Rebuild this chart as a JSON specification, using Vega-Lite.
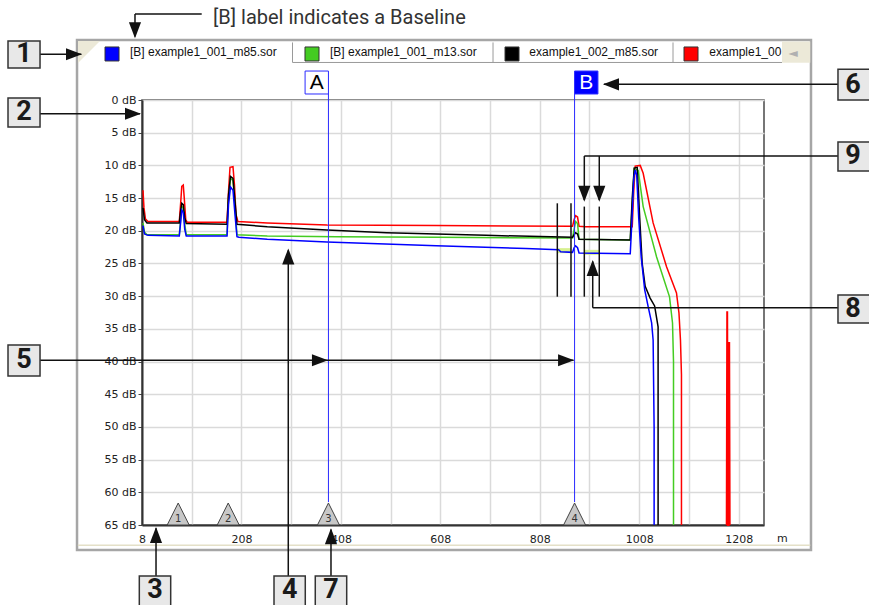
{
  "$schema": "https://vega.github.io/schema/vega-lite/v6.json",
  "width": 622,
  "height": 425,
  "autosize": {"type": "none"},
  "padding": {"left": 142, "top": 100, "right": 105, "bottom": 80},
  "background": "white",
  "config": {"view": {"stroke": "#4a4a4a", "strokeWidth": 1.5}},
  "datasets": {
    "traces": [
      {"s":"red","m":10,"db":13.8},{"s":"red","m":12,"db":16.5},{"s":"red","m":15,"db":18.2},{"s":"red","m":20,"db":18.6},{"s":"red","m":83,"db":18.6},{"s":"red","m":86,"db":15.5},{"s":"red","m":88,"db":13.2},{"s":"red","m":91,"db":13},{"s":"red","m":93,"db":15},{"s":"red","m":96,"db":18.3},{"s":"red","m":99,"db":18.7},{"s":"red","m":179,"db":18.7},{"s":"red","m":182,"db":14},{"s":"red","m":185,"db":10.3},{"s":"red","m":191,"db":10.2},{"s":"red","m":194,"db":13},{"s":"red","m":197,"db":17.5},{"s":"red","m":201,"db":18.6},{"s":"red","m":260,"db":18.8},{"s":"red","m":380,"db":19.1},{"s":"red","m":600,"db":19.2},{"s":"red","m":874,"db":19.3},{"s":"red","m":877,"db":18.3},{"s":"red","m":880,"db":17.7},{"s":"red","m":884,"db":17.9},{"s":"red","m":887,"db":19.3},{"s":"red","m":900,"db":19.4},{"s":"red","m":994,"db":19.4},{"s":"red","m":997,"db":14},{"s":"red","m":1000,"db":10.1},{"s":"red","m":1010,"db":10},{"s":"red","m":1016,"db":11.2},{"s":"red","m":1036,"db":18.8},{"s":"red","m":1063,"db":25.5},{"s":"red","m":1083,"db":29.5},{"s":"red","m":1088,"db":32.6},{"s":"red","m":1091,"db":36.7},{"s":"red","m":1093,"db":42},{"s":"red","m":1093,"db":65},
      {"s":"red2","m":1184,"db":65},{"s":"red2","m":1185,"db":32.3},{"s":"red2","m":1186,"db":65},{"s":"red2","m":1188,"db":65},{"s":"red2","m":1189,"db":37},{"s":"red2","m":1190,"db":65},
      {"s":"green","m":10,"db":18.8},{"s":"green","m":13,"db":20.2},{"s":"green","m":18,"db":20.6},{"s":"green","m":83,"db":20.6},{"s":"green","m":86,"db":18},{"s":"green","m":88,"db":16.3},{"s":"green","m":91,"db":16.5},{"s":"green","m":94,"db":19},{"s":"green","m":97,"db":20.6},{"s":"green","m":179,"db":20.6},{"s":"green","m":182,"db":15},{"s":"green","m":186,"db":12},{"s":"green","m":191,"db":12.3},{"s":"green","m":195,"db":16},{"s":"green","m":199,"db":20.6},{"s":"green","m":260,"db":20.8},{"s":"green","m":400,"db":20.9},{"s":"green","m":600,"db":21.0},{"s":"green","m":874,"db":21.1},{"s":"green","m":877,"db":19.8},{"s":"green","m":880,"db":18.6},{"s":"green","m":884,"db":18.9},{"s":"green","m":887,"db":21.3},{"s":"green","m":990,"db":21.4},{"s":"green","m":994,"db":16},{"s":"green","m":998,"db":10.5},{"s":"green","m":1006,"db":10.8},{"s":"green","m":1016,"db":16.3},{"s":"green","m":1043,"db":24},{"s":"green","m":1069,"db":30.1},{"s":"green","m":1075,"db":34.1},{"s":"green","m":1077,"db":40},{"s":"green","m":1077,"db":65},
      {"s":"black","m":10,"db":16.5},{"s":"black","m":13,"db":18.3},{"s":"black","m":18,"db":18.8},{"s":"black","m":83,"db":18.8},{"s":"black","m":86,"db":16.8},{"s":"black","m":88,"db":15.8},{"s":"black","m":91,"db":16},{"s":"black","m":94,"db":18},{"s":"black","m":97,"db":18.9},{"s":"black","m":179,"db":19.0},{"s":"black","m":182,"db":14.5},{"s":"black","m":186,"db":11.7},{"s":"black","m":191,"db":12},{"s":"black","m":195,"db":15.5},{"s":"black","m":199,"db":19.0},{"s":"black","m":260,"db":19.4},{"s":"black","m":380,"db":19.9},{"s":"black","m":500,"db":20.3},{"s":"black","m":700,"db":20.7},{"s":"black","m":874,"db":21.0},{"s":"black","m":877,"db":20.6},{"s":"black","m":880,"db":20.3},{"s":"black","m":884,"db":20.5},{"s":"black","m":887,"db":21.3},{"s":"black","m":990,"db":21.4},{"s":"black","m":994,"db":15},{"s":"black","m":998,"db":10.4},{"s":"black","m":1004,"db":10.3},{"s":"black","m":1009,"db":18},{"s":"black","m":1014,"db":25},{"s":"black","m":1020,"db":28.5},{"s":"black","m":1030,"db":30.3},{"s":"black","m":1039,"db":31.5},{"s":"black","m":1046,"db":34.7},{"s":"black","m":1046,"db":65},
      {"s":"blue","m":10,"db":19.2},{"s":"blue","m":13,"db":20.5},{"s":"blue","m":20,"db":20.7},{"s":"blue","m":83,"db":20.8},{"s":"blue","m":86,"db":18.5},{"s":"blue","m":88,"db":16.8},{"s":"blue","m":91,"db":17.2},{"s":"blue","m":94,"db":19.8},{"s":"blue","m":97,"db":20.8},{"s":"blue","m":179,"db":20.8},{"s":"blue","m":182,"db":16},{"s":"blue","m":186,"db":13.3},{"s":"blue","m":191,"db":13.8},{"s":"blue","m":195,"db":17.5},{"s":"blue","m":199,"db":20.9},{"s":"blue","m":203,"db":21.0},{"s":"blue","m":260,"db":21.3},{"s":"blue","m":380,"db":21.7},{"s":"blue","m":600,"db":22.3},{"s":"blue","m":780,"db":22.7},{"s":"blue","m":846,"db":22.9},{"s":"blue","m":850,"db":23.2},{"s":"blue","m":874,"db":23.3},{"s":"blue","m":877,"db":22.6},{"s":"blue","m":880,"db":22.3},{"s":"blue","m":884,"db":22.6},{"s":"blue","m":887,"db":23.4},{"s":"blue","m":990,"db":23.5},{"s":"blue","m":993,"db":19},{"s":"blue","m":997,"db":12},{"s":"blue","m":1000,"db":10.7},{"s":"blue","m":1003,"db":11.5},{"s":"blue","m":1007,"db":18},{"s":"blue","m":1012,"db":24},{"s":"blue","m":1019,"db":29},{"s":"blue","m":1026,"db":31.6},{"s":"blue","m":1033,"db":34.1},{"s":"blue","m":1036,"db":36.7},{"s":"blue","m":1038,"db":50},{"s":"blue","m":1038,"db":65}
    ],
    "markers": [
      {"m": 80.8, "db": 65, "n": "1"}, {"m": 181.4, "db": 65, "n": "2"}, {"m": 383, "db": 65, "n": "3"}, {"m": 878, "db": 65, "n": "4"}
    ]
  },
  "encoding": {
    "x": {
      "field": "m", "type": "quantitative",
      "scale": {"domain": [8, 1259], "nice": false, "zero": false},
      "axis": {
        "title": null, "values": [8,108,208,308,408,508,608,708,808,908,1008,1108,1208],
        "format": "d",
        "labelExpr": "(datum.value - 8) % 200 == 0 ? datum.label : ''",
        "ticks": false, "grid": true, "gridColor": "#dadada", "gridWidth": 1.5,
        "domainColor": "#333", "domainWidth": 2,
        "labelFont": "DejaVu Sans", "labelFontSize": 11, "labelColor": "#222",
        "labelPadding": 8, "labelFlush": false, "labelOverlap": false
      }
    },
    "y": {
      "field": "db", "type": "quantitative",
      "scale": {"domain": [0, 65], "reverse": true, "nice": false, "zero": false},
      "axis": {
        "title": null, "values": [0,5,10,15,20,25,30,35,40,45,50,55,60,65],
        "labelExpr": "datum.value + ' dB'",
        "grid": true, "gridColor": "#dadada", "gridWidth": 1.5,
        "ticks": true, "tickSize": 4, "tickColor": "#444",
        "domainColor": "#333", "domainWidth": 2,
        "labelFont": "DejaVu Sans", "labelFontSize": 11, "labelColor": "#222",
        "labelPadding": 2, "labelOverlap": false
      }
    }
  },
  "layer": [
    {
      "data": {"values": [{"m": -122.7, "m2": 1353.5, "db": -9.18, "db2": 68.82}]},
      "mark": {"type": "rect", "fill": "transparent", "stroke": "#a6a6a6", "strokeWidth": 2.5},
      "encoding": {"x2": {"field": "m2"}, "y2": {"field": "db2"}}
    },
    {
      "data": {"values": [{"m": -121, "m2": 1352, "db": 68.1, "db2": 68.1}]},
      "mark": {"type": "rule", "color": "#e4e0c8", "strokeWidth": 1.5},
      "encoding": {"x2": {"field": "m2"}, "y2": {"field": "db2"}}
    },
    {
      "data": {"values": [{"m": 1295.2, "m2": 1352, "db": -8.95, "db2": -5.7}]},
      "mark": {"type": "rect", "fill": "#ece9d8"},
      "encoding": {"x2": {"field": "m2"}, "y2": {"field": "db2"}}
    },
    {
      "data": {"values": [
        {"m": 310.7, "m2": 1295.2, "db": -5.74, "db2": -5.74},
        {"m": 310.7, "m2": 310.7, "db": -8.8, "db2": -5.74},
        {"m": 714, "m2": 714, "db": -8.8, "db2": -5.74},
        {"m": 1076, "m2": 1076, "db": -8.8, "db2": -5.74}
      ]},
      "mark": {"type": "rule", "color": "#9a9a9a", "strokeWidth": 1},
      "encoding": {"x2": {"field": "m2"}, "y2": {"field": "db2"}}
    },
    {
      "data": {"values": [{"m": -98.6, "db": -7.34}]},
      "mark": {"type": "point", "shape": "M-1,-1L1,-1L-1,1Z", "size": 484, "filled": true, "fill": "#ece9d8", "opacity": 1, "strokeWidth": 0}
    },
    {
      "data": {"values": [{"m": -52.3, "db": -7.04, "s": "blue"}, {"m": 349.9, "db": -7.04, "s": "green"}, {"m": 752.2, "db": -7.04, "s": "black"}, {"m": 1112.2, "db": -7.04, "s": "red"}]},
      "mark": {"type": "point", "shape": "square", "size": 196, "filled": true, "opacity": 1, "stroke": "#333", "strokeWidth": 1},
      "encoding": {
        "fill": {"field": "s", "type": "nominal", "scale": {"domain": ["blue", "green", "black", "red"], "range": ["#0000ff", "#44cc22", "#000000", "#ff0000"]}, "legend": null}
      }
    },
    {
      "data": {"values": [
        {"m": -16.1, "db": -7.27, "t": "[B] example1_001_m85.sor"},
        {"m": 386.1, "db": -7.27, "t": "[B] example1_001_m13.sor"},
        {"m": 787, "db": -7.27, "t": "example1_002_m85.sor"},
        {"m": 1149, "db": -7.27, "t": "example1_00"}
      ]},
      "mark": {"type": "text", "align": "left", "baseline": "middle", "font": "Liberation Sans", "fontSize": 12, "color": "#111"},
      "encoding": {"text": {"field": "t"}}
    },
    {
      "data": {"values": [{"m": 1317.3, "db": -7.2, "t": "◄"}]},
      "mark": {"type": "text", "align": "center", "baseline": "middle", "font": "DejaVu Sans", "fontSize": 12, "color": "#b0b0b0"},
      "encoding": {"text": {"field": "t"}}
    },
    {
      "data": {"values": [
        {"m": 843.3, "m2": 870.8, "db": 23.04, "db2": 23.04},
        {"m": 897.6, "m2": 927.7, "db": 23.3, "db2": 23.3}
      ]},
      "mark": {"type": "rule", "color": "#d6f08f", "strokeWidth": 5},
      "encoding": {"x2": {"field": "m2"}, "y2": {"field": "db2"}}
    },
    {
      "data": {"name": "traces"},
      "transform": [{"filter": "datum.s == 'red'"}],
      "mark": {"type": "line", "color": "#ff0000", "strokeWidth": 1.5},
      "encoding": {"order": {"value": null}}
    },
    {
      "data": {"name": "traces"},
      "transform": [{"filter": "datum.s == 'red2'"}],
      "mark": {"type": "line", "color": "#ff0000", "strokeWidth": 2},
      "encoding": {"order": {"value": null}}
    },
    {
      "data": {"name": "traces"},
      "transform": [{"filter": "datum.s == 'green'"}],
      "mark": {"type": "line", "color": "#44cc22", "strokeWidth": 1.5},
      "encoding": {"order": {"value": null}}
    },
    {
      "data": {"name": "traces"},
      "transform": [{"filter": "datum.s == 'black'"}],
      "mark": {"type": "line", "color": "#000000", "strokeWidth": 1.5},
      "encoding": {"order": {"value": null}}
    },
    {
      "data": {"name": "traces"},
      "transform": [{"filter": "datum.s == 'blue'"}],
      "mark": {"type": "line", "color": "#0000ff", "strokeWidth": 1.5},
      "encoding": {"order": {"value": null}}
    },
    {
      "data": {"values": [
        {"m": 383, "m2": 383, "db": -0.92, "db2": 61.5},
        {"m": 878, "m2": 878, "db": -0.92, "db2": 61.5}
      ]},
      "mark": {"type": "rule", "color": "#2a2aff", "strokeWidth": 1},
      "encoding": {"x2": {"field": "m2"}, "y2": {"field": "db2"}}
    },
    {
      "data": {"values": [{"m": 336, "m2": 383, "db": -4.43, "db2": -0.92}]},
      "mark": {"type": "rect", "fill": "white", "stroke": "#2a2aff", "strokeWidth": 1},
      "encoding": {"x2": {"field": "m2"}, "y2": {"field": "db2"}}
    },
    {
      "data": {"values": [{"m": 878, "m2": 925, "db": -4.43, "db2": -0.92}]},
      "mark": {"type": "rect", "fill": "#0000ff", "stroke": "#2a2aff", "strokeWidth": 1},
      "encoding": {"x2": {"field": "m2"}, "y2": {"field": "db2"}}
    },
    {
      "data": {"values": [{"m": 359.5, "db": -2.6, "t": "A"}]},
      "mark": {"type": "text", "align": "center", "baseline": "middle", "font": "Liberation Sans", "fontSize": 21, "color": "#000"},
      "encoding": {"text": {"field": "t"}}
    },
    {
      "data": {"values": [{"m": 901.5, "db": -2.6, "t": "B"}]},
      "mark": {"type": "text", "align": "center", "baseline": "middle", "font": "Liberation Sans", "fontSize": 21, "color": "#ffffff"},
      "encoding": {"text": {"field": "t"}}
    },
    {
      "data": {"name": "markers"},
      "mark": {"type": "point", "shape": "M-1,1L0,-1L1,1Z", "size": 484, "filled": true, "fill": "#c8c8c8", "opacity": 1, "stroke": "#444", "strokeWidth": 1, "yOffset": -11}
    },
    {
      "data": {"name": "markers"},
      "mark": {"type": "text", "align": "center", "baseline": "middle", "font": "DejaVu Sans", "fontSize": 10, "color": "#333", "yOffset": -6.5},
      "encoding": {"text": {"field": "n"}}
    },
    {
      "data": {"values": [
        {"m": 843.3, "m2": 843.3, "db": 15.8, "db2": 30.08},
        {"m": 870.8, "m2": 870.8, "db": 15.8, "db2": 30.08},
        {"m": 897.6, "m2": 897.6, "db": 16.3, "db2": 30.08},
        {"m": 927.7, "m2": 927.7, "db": 16.3, "db2": 30.08}
      ]},
      "mark": {"type": "rule", "color": "#111", "strokeWidth": 1.5},
      "encoding": {"x2": {"field": "m2"}, "y2": {"field": "db2"}}
    },
    {
      "data": {"values": [
        {"m": -197.1, "m2": -114, "db": -7.0, "db2": -7.0},
        {"m": -197.1, "m2": 4, "db": 2.1, "db2": 2.1},
        {"m": -197.1, "m2": 876, "db": 39.8, "db2": 39.8},
        {"m": 36.2, "m2": 36.2, "db": 72.8, "db2": 65.5},
        {"m": 302.2, "m2": 302.2, "db": 72.8, "db2": 23},
        {"m": 388.1, "m2": 388.1, "db": 72.8, "db2": 65.7},
        {"m": 1407.8, "m2": 937, "db": -2.4, "db2": -2.4},
        {"m": 1407.8, "m2": 897.6, "db": 8.56, "db2": 8.56},
        {"m": 897.6, "m2": 897.6, "db": 8.56, "db2": 15.3},
        {"m": 927.7, "m2": 927.7, "db": 8.56, "db2": 15.3},
        {"m": 1407.8, "m2": 914.5, "db": 31.77, "db2": 31.77},
        {"m": 914.5, "m2": 914.5, "db": 31.77, "db2": 24.7},
        {"m": 128.1, "m2": -6.1, "db": -13.15, "db2": -13.15},
        {"m": -6.1, "m2": -6.1, "db": -13.15, "db2": -9.7}
      ]},
      "mark": {"type": "rule", "color": "#111", "strokeWidth": 1.5},
      "encoding": {"x2": {"field": "m2"}, "y2": {"field": "db2"}}
    },
    {
      "data": {"values": [
        {"m": -112.7, "db": -7.0, "a": 0},
        {"m": 6, "db": 2.1, "a": 0},
        {"m": 382, "db": 39.8, "a": 0},
        {"m": 877, "db": 39.8, "a": 0},
        {"m": 36.2, "db": 65.3, "a": 270},
        {"m": 302.2, "db": 22.7, "a": 270},
        {"m": 388.1, "db": 65.5, "a": 270},
        {"m": 935.2, "db": -2.4, "a": 180},
        {"m": 897.6, "db": 15.55, "a": 90},
        {"m": 927.7, "db": 15.55, "a": 90},
        {"m": 914.5, "db": 24.47, "a": 270},
        {"m": -6.1, "db": -9.44, "a": 90}
      ]},
      "mark": {"type": "point", "shape": "M0,0L-1,-0.38L-1,0.38Z", "size": 1024, "filled": true, "fill": "#111", "opacity": 1, "strokeWidth": 0},
      "encoding": {"angle": {"field": "a", "type": "quantitative", "scale": null}}
    },
    {
      "data": {"values": [
        {"m": -261.5, "m2": -197.1, "db": -9.02, "db2": -4.89},
        {"m": -261.5, "m2": -197.1, "db": -0.31, "db2": 4.13},
        {"m": -261.5, "m2": -197.1, "db": 37.47, "db2": 42.21},
        {"m": 2.6, "m2": 65.7, "db": 72.8, "db2": 78.5},
        {"m": 273.5, "m2": 336.4, "db": 72.8, "db2": 78.5},
        {"m": 356.5, "m2": 419.7, "db": 72.8, "db2": 78.5},
        {"m": 1407.8, "m2": 1480, "db": -4.7, "db2": 0},
        {"m": 1407.8, "m2": 1480, "db": 6.42, "db2": 10.86},
        {"m": 1407.8, "m2": 1480, "db": 29.82, "db2": 34.1}
      ]},
      "mark": {"type": "rect", "fill": "#e8e8e8", "stroke": "#333", "strokeWidth": 1.5},
      "encoding": {"x2": {"field": "m2"}, "y2": {"field": "db2"}}
    },
    {
      "data": {"values": [
        {"m": -229.3, "db": -6.96, "t": "1"},
        {"m": -229.3, "db": 1.91, "t": "2"},
        {"m": -229.3, "db": 39.84, "t": "5"},
        {"m": 34.1, "db": 74.9, "t": "3"},
        {"m": 305, "db": 74.9, "t": "4"},
        {"m": 388.1, "db": 74.9, "t": "7"},
        {"m": 1438, "db": -2.34, "t": "6"},
        {"m": 1438, "db": 8.64, "t": "9"},
        {"m": 1438, "db": 31.96, "t": "8"}
      ]},
      "mark": {"type": "text", "align": "center", "baseline": "middle", "font": "Roboto", "fontSize": 27, "fontWeight": "bold", "color": "#1a1a1a"},
      "encoding": {"text": {"field": "t"}}
    },
    {
      "data": {"values": [{"m": 150.8, "db": -12.5, "t": "[B] label indicates a Baseline"}]},
      "mark": {"type": "text", "align": "left", "baseline": "middle", "font": "Roboto", "fontSize": 20, "color": "#333"},
      "encoding": {"text": {"field": "t"}}
    },
    {
      "data": {"values": [{"m": 1296, "db": 67.2, "t": "m"}]},
      "mark": {"type": "text", "align": "center", "baseline": "middle", "font": "DejaVu Sans", "fontSize": 11, "color": "#222"},
      "encoding": {"text": {"field": "t"}}
    }
  ]
}
